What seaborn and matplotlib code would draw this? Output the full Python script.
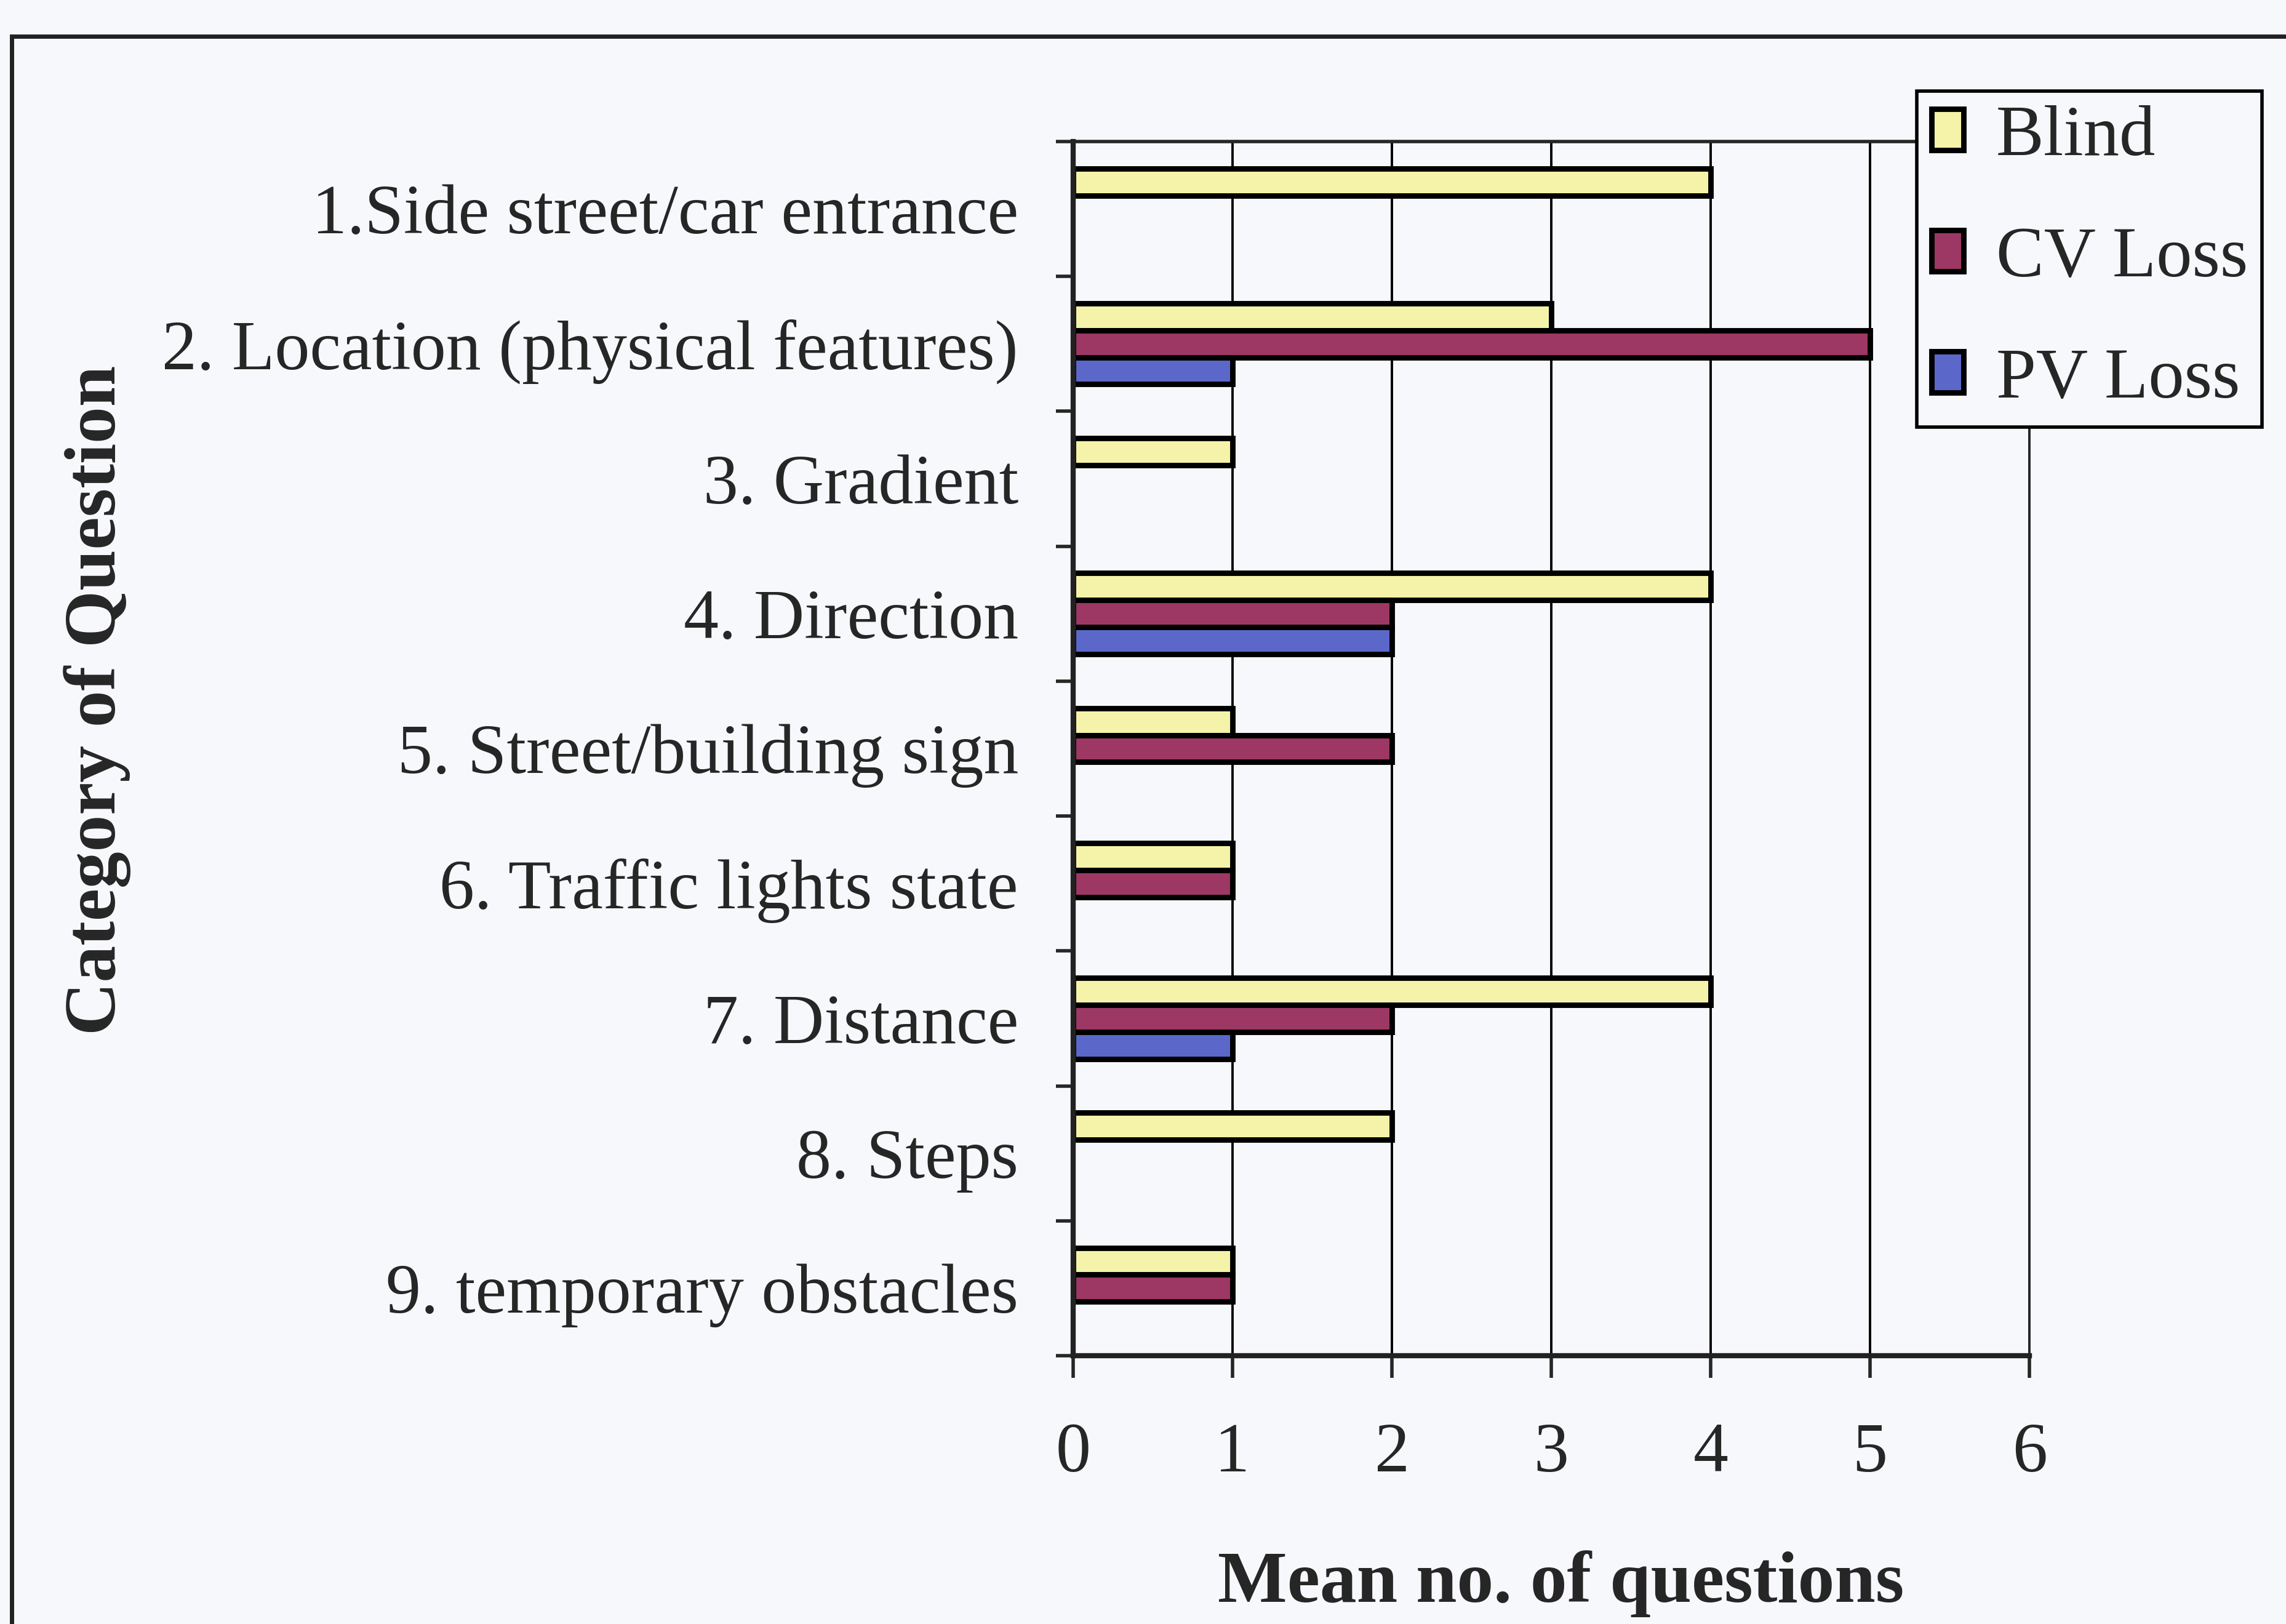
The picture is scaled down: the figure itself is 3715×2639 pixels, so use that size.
import numpy as np
import pandas as pd
import matplotlib.pyplot as plt
import seaborn as sns
from matplotlib.patches import Rectangle

# data
categories = ['1.Side street/car entrance', '2. Location (physical features)', '3. Gradient',
              '4. Direction', '5. Street/building sign', '6. Traffic lights state',
              '7. Distance', '8. Steps', '9. temporary obstacles']
groups = ['Blind', 'CV Loss', 'PV Loss']
blind = [4, 3, 1, 4, 1, 1, 4, 2, 1]
cv_loss = [0, 5, 0, 2, 2, 1, 2, 0, 1]
pv_loss = [0, 1, 0, 2, 0, 0, 1, 0, 0]
x_ticks = [0, 1, 2, 3, 4, 5, 6]
colors = ['#F4F3A9', '#9C3863', '#5B68C9']

sns.set_style('white')
plt.rcParams['font.family'] = ['Liberation Serif', 'DejaVu Serif']
plt.rcParams['font.size'] = 41

df = pd.DataFrame({
    'Category': categories * 3,
    'Group': np.repeat(groups, len(categories)),
    'Mean': blind + cv_loss + pv_loss,
})
df = df[df['Mean'] > 0]

bg = '#F7F8FB'
fig = plt.figure(figsize=(18.575, 13.195), dpi=200, facecolor=bg)
ax = fig.add_axes([0.4694, 0.1652, 0.8878 - 0.4694, 0.9129 - 0.1652])
ax.set_facecolor(bg)

sns.barplot(data=df, x='Mean', y='Category', hue='Group', order=categories,
            hue_order=groups, palette=colors, width=0.6, edgecolor='black',
            linewidth=3.2, orient='h', saturation=1, ax=ax)

ax.set_xlim(0, 6)
ax.set_xticks(x_ticks)
ax.set_axisbelow(True)
ax.xaxis.grid(True, color='black', linewidth=1.4)
ax.yaxis.grid(False)

for side in ['left', 'bottom']:
    ax.spines[side].set_linewidth(3)
    ax.spines[side].set_color('#222222')
ax.spines['top'].set_linewidth(2)
ax.spines['right'].set_linewidth(1.4)
for s in ax.spines.values():
    s.set_visible(True)

ax.tick_params(axis='x', length=13, width=2, pad=26, labelsize=41, bottom=True)
ax.tick_params(axis='y', which='major', length=0, pad=32, labelsize=41)
ax.set_yticks(np.arange(-0.5, len(categories), 1), minor=True)
ax.tick_params(axis='y', which='minor', length=10, width=2, left=True)

ax.set_xlabel('Mean no. of questions', fontsize=43, fontweight='bold')
ax.set_ylabel('Category of Question', fontsize=43, fontweight='bold')
ax.xaxis.set_label_coords(0.51, -0.16)
ax.yaxis.set_label_coords(-0.985, 0.54)

handles, labels = ax.get_legend_handles_labels()
ax.get_legend().remove()
leg = fig.legend(handles, labels, loc='upper left', bbox_to_anchor=(0.8386, 0.944),
                 borderaxespad=0, fontsize=42, handlelength=0.45, handleheight=0.5,
                 labelspacing=0.78, handletextpad=0.45, borderpad=0.2,
                 fancybox=False, framealpha=1)
leg.get_frame().set_edgecolor('black')
leg.get_frame().set_linewidth(2)
leg.get_frame().set_facecolor(bg)

# outer border of the scanned figure
fig.add_artist(Rectangle((0.005, -0.5), 2, 0.9776 + 0.5, transform=fig.transFigure,
                         fill=False, edgecolor='#222222', linewidth=2.5))

fig.savefig('out.png', dpi=200, facecolor=bg)
